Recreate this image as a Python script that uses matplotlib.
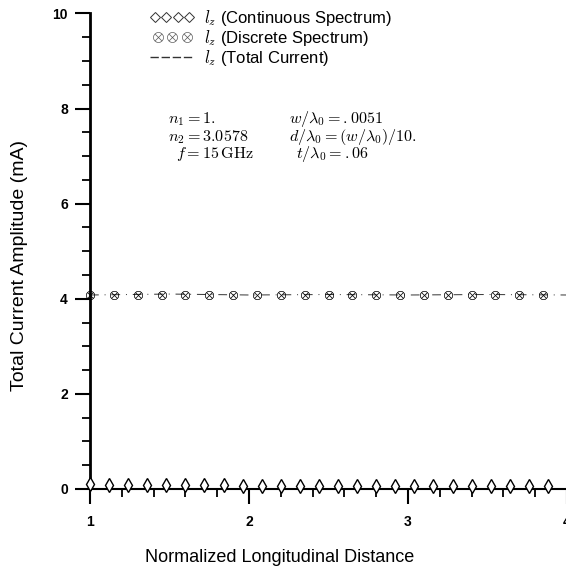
import numpy as np
import matplotlib
matplotlib.use("Agg")
import matplotlib.pyplot as plt
from matplotlib.ticker import MultipleLocator
from matplotlib.lines import Line2D
from matplotlib.legend_handler import HandlerLine2D

plt.rcParams['font.family'] = ['Liberation Sans', 'DejaVu Sans']
plt.rcParams['mathtext.fontset'] = 'cm'

# data
x_cont = [1.00, 1.12, 1.24, 1.36, 1.48, 1.60, 1.72, 1.84, 1.96, 2.08, 2.20, 2.32, 2.44,
          2.56, 2.68, 2.80, 2.92, 3.04, 3.16, 3.28, 3.40, 3.52, 3.64, 3.76, 3.88]
y_cont = [0.10, 0.09, 0.09, 0.09, 0.08, 0.08, 0.08, 0.08, 0.07, 0.07, 0.07, 0.07, 0.07,
          0.07, 0.07, 0.07, 0.07, 0.07, 0.06, 0.06, 0.06, 0.06, 0.06, 0.06, 0.06]
x_disc = [1.00, 1.15, 1.30, 1.45, 1.60, 1.75, 1.90, 2.05, 2.20, 2.35,
          2.50, 2.65, 2.80, 2.95, 3.10, 3.25, 3.40, 3.55, 3.70, 3.85]
y_disc = [4.08, 4.08, 4.08, 4.08, 4.08, 4.08, 4.08, 4.08, 4.08, 4.08,
          4.08, 4.08, 4.08, 4.08, 4.08, 4.08, 4.08, 4.08, 4.08, 4.08]
x_total = [1.0, 1.5, 2.0, 2.5, 3.0, 3.5, 4.0]
y_total = [4.08, 4.10, 4.08, 4.09, 4.08, 4.09, 4.08]

legend_labels = ['$l_z$ (Continuous Spectrum)', '$l_z$ (Discrete Spectrum)', '$l_z$ (Total Current)']
x_ticks = [1, 2, 3, 4]
y_ticks = [0, 2, 4, 6, 8, 10]

fig = plt.figure(figsize=(5.66, 5.71), dpi=100)
ax = fig.add_axes([90/566, 82/571, 477/566, 475.5/571])

ax.plot(x_total, y_total, color='#333333', lw=0.7, linestyle=(0, (9, 6, 1, 6)), zorder=1)
ax.plot(x_disc, y_disc, linestyle='none', marker='$\\otimes$', markersize=6.3,
        color='black', markeredgewidth=0.2, zorder=3, clip_on=False)
ax.plot(x_cont, y_cont, linestyle='none', marker='d', markersize=7.5, markerfacecolor='white',
        markeredgecolor='black', markeredgewidth=1.0, zorder=3, clip_on=False)

ax.set_xlim(1, 4)
ax.set_ylim(0, 10)
ax.spines['top'].set_visible(False)
ax.spines['right'].set_visible(False)
ax.spines['left'].set_linewidth(2)
ax.spines['bottom'].set_linewidth(1.5)
ax.set_xticks(x_ticks)
ax.set_yticks(y_ticks)
ax.xaxis.set_minor_locator(MultipleLocator(0.2))
ax.yaxis.set_minor_locator(MultipleLocator(0.5))
ax.tick_params(which='major', length=11, width=1.5, direction='out', labelsize=10)
ax.tick_params(which='minor', length=5.5, width=1.3, direction='out')
ax.tick_params(axis='x', which='major', pad=8)
ax.tick_params(axis='y', which='major', pad=5)
ax.set_xticklabels([str(v) for v in x_ticks], fontweight='bold')
ax.set_yticklabels([str(v) for v in y_ticks], fontweight='bold')

ax.set_ylabel('Total Current Amplitude (mA)', fontsize=14)
ax.yaxis.set_label_coords((20-90)/477, 0.471)
ax.yaxis.label.set_va('center')
ax.set_xlabel('Normalized Longitudinal Distance', fontsize=13)
ax.xaxis.set_label_coords((280-90)/477, (571-557-82)/475.5)
ax.xaxis.label.set_va('center')

# legend
h1 = Line2D([], [], linestyle='none', marker='D', markersize=5.0, markerfacecolor='white',
            markeredgecolor='#333333', markeredgewidth=0.7)
h2 = Line2D([], [], linestyle='none', marker='$\\otimes$', markersize=7.5,
            color='#444444', markeredgewidth=0.1)
h3 = Line2D([], [], linestyle=(0, (6, 2)), color='#333333', lw=1.0)
fig.legend([h1, h2, h3], legend_labels, loc='upper left',
           bbox_to_anchor=(150/566, 1 - 8/571), frameon=False, fontsize=12,
           handlelength=2.66, handletextpad=0.6, labelspacing=0.0, borderpad=0,
           borderaxespad=0,
           handler_map={h1: HandlerLine2D(numpoints=4, marker_pad=0.3),
                        h2: HandlerLine2D(numpoints=3, marker_pad=0.45)})

# annotations
ann_left = ['$n_1 = 1.$', '$n_2 = 3.0578$', '$f = 15\\,\\mathrm{GHz}$']
ann_right = ['$w/\\lambda_0 = {.}0051$', '$d/\\lambda_0 = (w/\\lambda_0)/10.$', '$t/\\lambda_0 = {.}06$']
left_x = [168, 168, 176]
right_x = [289, 289, 296]
rows = [119, 137, 154]
for i, yp in enumerate(rows):
    yy = 1 - yp/571
    fig.text(left_x[i]/566, yy, ann_left[i], ha='left', va='center', fontsize=11.6)
    fig.text(right_x[i]/566, yy, ann_right[i], ha='left', va='center', fontsize=11.6)

fig.savefig('out.png', dpi=100)
